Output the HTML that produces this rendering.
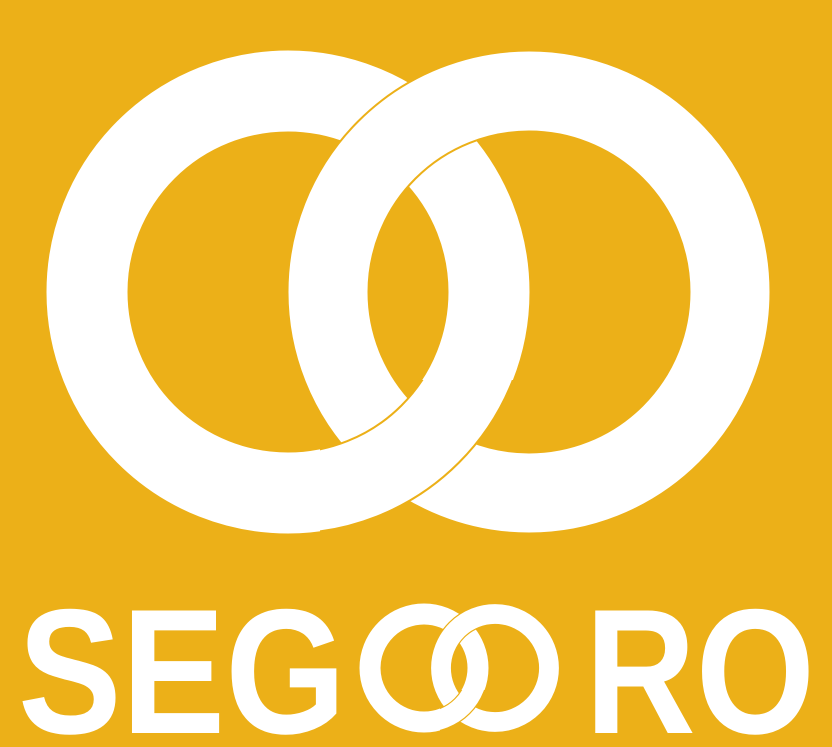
<!DOCTYPE html>
<html><head><meta charset="utf-8"><style>
html,body{margin:0;padding:0;background:#ECB018;}
svg{display:block}
</style></head><body>
<svg width="832" height="747" viewBox="0 0 832 747">
<defs>
<clipPath id="bottomBig"><rect x="320" y="380" width="230" height="220"/></clipPath>
<clipPath id="bottomSmall"><rect x="440" y="690" width="60" height="70"/></clipPath>
</defs>
<rect width="832" height="747" fill="#ECB018"/>
<g>
  <g>
    <circle cx="288" cy="292" r="201" fill="none" stroke="#fff" stroke-width="81"/>
  </g>
  <g>
    <circle cx="529" cy="292" r="201" fill="none" stroke="#fff" stroke-width="81"/>
    <circle cx="529" cy="292" r="241.5" fill="none" stroke="#ECB018" stroke-width="2"/>
    <circle cx="529" cy="292" r="160.5" fill="none" stroke="#ECB018" stroke-width="2"/>
  </g>
  <g clip-path="url(#bottomBig)">
    <circle cx="288" cy="292" r="201" fill="none" stroke="#fff" stroke-width="81"/>
    <circle cx="288" cy="292" r="241.5" fill="none" stroke="#ECB018" stroke-width="2"/>
    <circle cx="288" cy="292" r="160.5" fill="none" stroke="#ECB018" stroke-width="2"/>
  </g>
</g>
<g>
  <text x="18" y="733" font-family="Liberation Sans, sans-serif" font-weight="bold" font-size="178" fill="#fff" textLength="328" lengthAdjust="spacingAndGlyphs">SEG</text>
  <g>
    <circle cx="424" cy="668" r="54" fill="none" stroke="#fff" stroke-width="21"/>
    <circle cx="495" cy="668" r="54" fill="none" stroke="#fff" stroke-width="21"/>
    <circle cx="495" cy="668" r="64.5" fill="none" stroke="#ECB018" stroke-width="1.2"/>
    <circle cx="495" cy="668" r="43.5" fill="none" stroke="#ECB018" stroke-width="1.2"/>
    <g clip-path="url(#bottomSmall)">
      <circle cx="424" cy="668" r="54" fill="none" stroke="#fff" stroke-width="21"/>
      <circle cx="424" cy="668" r="64.5" fill="none" stroke="#ECB018" stroke-width="1.2"/>
      <circle cx="424" cy="668" r="43.5" fill="none" stroke="#ECB018" stroke-width="1.2"/>
    </g>
  </g>
  <text x="585" y="733" font-family="Liberation Sans, sans-serif" font-weight="bold" font-size="178" fill="#fff" textLength="230" lengthAdjust="spacingAndGlyphs">RO</text>
</g>
</svg>
</body></html>
